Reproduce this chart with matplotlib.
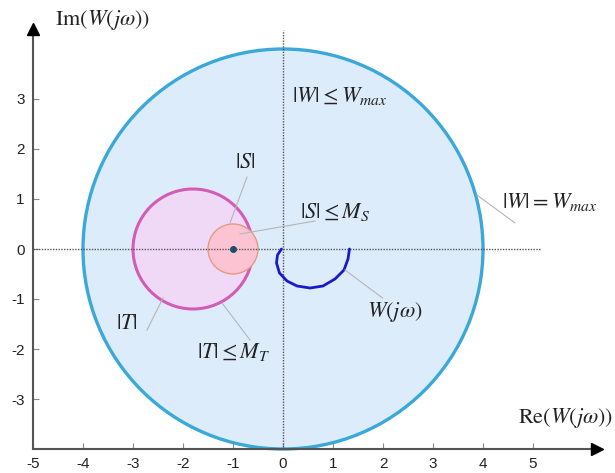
import numpy as np
import matplotlib
matplotlib.use("Agg")
import matplotlib.pyplot as plt
from matplotlib.patches import Circle

plt.rcParams["font.family"] = ["Liberation Sans", "DejaVu Sans"]
plt.rcParams["mathtext.fontset"] = "stix"
plt.rcParams["axes.unicode_minus"] = False

# Region boundaries in the complex plane: (centre_re, centre_im, radius)
w_bound = (0.0, 0.0, 4.0)      # |W| <= W_max
t_bound = (-1.8, 0.0, 1.2)     # |T| <= M_T
s_bound = (-1.0, 0.0, 0.5)     # |S| <= M_S
crit_point = (-1.0, 0.0)

# Nyquist locus W(jw)
w_re = [-0.03, -0.11, -0.13, -0.07, 0.08, 0.28, 0.54, 0.80, 1.04, 1.22, 1.30, 1.33]
w_im = [0.00, -0.12, -0.28, -0.48, -0.64, -0.74, -0.78, -0.74, -0.60, -0.42, -0.20, 0.00]

x_ticks = [-5, -4, -3, -2, -1, 0, 1, 2, 3, 4, 5]
y_ticks = [-3, -2, -1, 0, 1, 2, 3]

W, H = 615, 473
fig = plt.figure(figsize=(W / 100, H / 100), dpi=100)
# 50 px per unit, origin at pixel (283, 249)
x0, x1 = -5.0, 6.5
y0, y1 = -4.0, 4.6
ax = fig.add_axes([33 / W, (H - 449) / H, (x1 - x0) * 50 / W, (y1 - y0) * 50 / H])
ax.set_xlim(x0, x1)
ax.set_ylim(y0, y1)
ax.set_aspect("equal")

ax.add_patch(Circle(w_bound[:2], w_bound[2], facecolor="#ddecfb", edgecolor="#3aa8d8",
                    lw=2.4, zorder=1, clip_on=False))
ax.add_patch(Circle(t_bound[:2], t_bound[2], facecolor="#f0d9f7", edgecolor="#d45cb6",
                    lw=2.2, zorder=2))
ax.add_patch(Circle(s_bound[:2], s_bound[2], facecolor="#fcc4d2", edgecolor="#e39a82",
                    lw=1.0, zorder=3))
ax.plot(*crit_point, "o", color="#1e4d6a", ms=4, zorder=6)

# dotted coordinate axes
ax.plot([0, 0], [-3.95, 4.38], color="#555555", lw=1.0, ls=(0, (1, 1)), zorder=4)
ax.plot([-5, 5.15], [0, 0], color="#555555", lw=1.0, ls=(0, (1, 1)), zorder=4)

ax.plot(w_re, w_im, color="#1a1ac8", lw=2.0, zorder=5, solid_capstyle="round")

# spines with arrow heads
for s in ["top", "right"]:
    ax.spines[s].set_visible(False)
for s in ["left", "bottom"]:
    ax.spines[s].set_color("#555555")
    ax.spines[s].set_linewidth(1.5)
    ax.spines[s].set_zorder(7)
ax.spines["left"].set_bounds(y0, 4.35)
ax.spines["bottom"].set_bounds(x0, 6.2)
ax.plot(-5, 4.40, marker="^", color="black", ms=9, clip_on=False, zorder=8)
ax.plot(6.27, -4, marker=">", color="black", ms=9, clip_on=False, zorder=8)

ax.set_xticks(x_ticks)
ax.set_yticks(y_ticks)
ax.tick_params(direction="in", length=4, width=0.8, color="#888888",
               labelsize=11, labelcolor="#222222", pad=6)

lab = dict(fontsize=16, color="#222222", zorder=9)
ax.text(-4.56, 4.58, r"$\mathrm{Im}\left(W(j\omega)\right)$", ha="left", va="center",
        clip_on=False, **lab)
ax.text(4.7, -3.38, r"$\mathrm{Re}\left(W(j\omega)\right)$", ha="left", va="center",
        clip_on=False, **lab)
ax.text(0.18, 3.06, r"$|W| \leq W_{max}$", ha="left", va="center", **lab)
ax.text(4.38, 0.94, r"$|W| = W_{max}$", ha="left", va="center", **lab)
ax.text(-0.76, 1.74, r"$|S|$", ha="center", va="center", **lab)
ax.text(0.34, 0.74, r"$|S| \leq M_S$", ha="left", va="center", **lab)
ax.text(-3.12, -1.48, r"$|T|$", ha="center", va="center", **lab)
ax.text(-1.72, -2.06, r"$|T| \leq M_T$", ha="left", va="center", **lab)
ax.text(1.68, -1.26, r"$W(j\omega)$", ha="left", va="center", **lab)

# leader lines
lc = dict(color="#b5b5b5", lw=0.8, zorder=8)
ax.plot([3.88, 4.64], [1.08, 0.52], **lc)
ax.plot([-0.72, -1.06], [1.44, 0.52], **lc)
ax.plot([0.64, -0.86], [0.56, 0.30], **lc)
ax.plot([-2.72, -2.4], [-1.62, -0.98], **lc)
ax.plot([-0.66, -1.22], [-1.82, -1.08], **lc)
ax.plot([1.99, 1.24], [-0.98, -0.42], **lc)

fig.savefig("out.png", dpi=100)
